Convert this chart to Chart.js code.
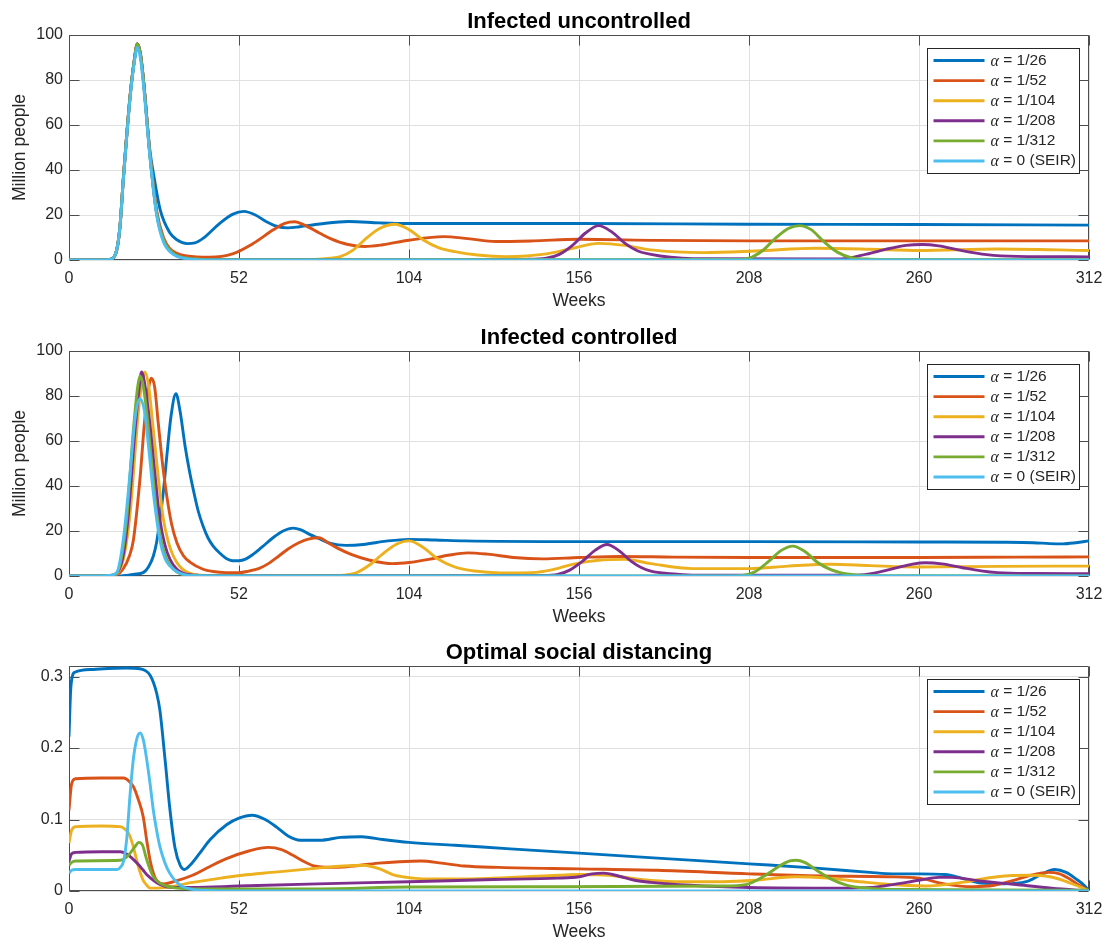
<!DOCTYPE html>
<html>
<head>
<meta charset="utf-8">
<title>Infected and optimal social distancing</title>
<script src="https://cdn.jsdelivr.net/npm/chart.js@4.4.1/dist/chart.umd.min.js"></script>
<style>
  html, body { margin: 0; padding: 0; background: #fff; }
  #fig { position: relative; width: 1113px; height: 945px; overflow: hidden; }
  #fig canvas { position: absolute; left: 0; }
</style>
</head>
<body>
<div id="fig">
  <canvas id="uncChart" width="1113" height="316" style="top:0px"></canvas>
  <canvas id="ctlChart" width="1113" height="316" style="top:316px"></canvas>
  <canvas id="sdChart" width="1113" height="316" style="top:631px"></canvas>
</div>
<script>
// Legend entries (alpha values) and axis ticks
const alphaLabels = ['1/26', '1/52', '1/104', '1/208', '1/312', '0 (SEIR)'];
const weekTicks = [0, 52, 104, 156, 208, 260, 312];
const peopleTicks = [0, 20, 40, 60, 80, 100];
const distTicks = [0, 0.1, 0.2, 0.3];

// MATLAB default line colors
const COLORS = ['#0072BD', '#D95319', '#EDB120', '#7E2F8E', '#77AC30', '#4DBEEE'];
const AXIS_COLOR = '#4d4d4d';
const TEXT_COLOR = '#262626';
const GRID_COLOR = '#e0e0e0';
const FONT = "'Liberation Sans', Arial, sans-serif";

// ---- Infected uncontrolled: [week, million people] ----
const uncA26 = [[0,0],[10,0],[12.5,0.3],[14.6,4.5],[15.6,15],[16.6,35.7],[18.7,73],[20,89],[20.9,96],[21.8,92],[22.7,81],[24.8,48],[25.8,38.7],[27.9,22.3],[30.9,12],[33,9],[36.2,7.3],[38.5,7.6],[41.1,9.7],[46.2,16.4],[50,20.3],[53.5,21.6],[57,20],[60.4,17],[63.5,15],[67,14.3],[70.5,14.8],[76.7,16],[85.5,17.1],[95,16.5],[104,16.2],[130,16.2],[156,16.2],[208,15.9],[260,15.8],[312,15.5]];
const uncA52 = [[0,0],[10,0],[12.5,0.3],[14.6,4.5],[15.6,15],[16.6,35.7],[18.7,73],[20,89],[20.9,96],[21.8,92],[22.7,81],[24.8,46.5],[26.8,22],[28.9,10],[30.9,5],[33,3],[36,1.8],[43,1.2],[50,2.7],[56.4,7.4],[62.5,13.4],[66,16.3],[69.1,17],[72,15.5],[76.7,11.9],[80,9.5],[85,7],[90.5,6],[96,6.8],[104,8.8],[114.5,10.4],[122,9.5],[130.5,8.2],[142,8.5],[156,9.2],[180,8.7],[208,8.5],[260,8.5],[312,8.5]];
const uncA104 = [[0,0],[10,0],[12.5,0.3],[14.6,4.5],[15.6,15],[16.6,35.7],[18.7,73],[20,89],[20.9,96],[21.8,92],[22.7,81],[24.8,46],[26.8,21],[28.9,9],[31.9,3],[35,1],[40,0.3],[60,0.1],[75,0.3],[80,0.8],[83,1.5],[87,4.5],[91,9.7],[95,14],[99.7,15.9],[104,13.5],[108.4,8.9],[113,5.5],[118,3.7],[125,2.2],[133.7,1.5],[140,1.8],[146,2.7],[154,5.2],[162,7.4],[170,6.5],[178,4.5],[194,3.3],[210,4],[228.5,5.2],[245,4.8],[260,4.2],[284,4.9],[312,4.2]];
const uncA208 = [[0,0],[10,0],[12.5,0.3],[14.6,4.5],[15.6,15],[16.6,35.7],[18.7,73],[20,89],[20.9,96],[21.8,92],[22.7,81],[24.8,46],[26.8,21],[28.9,9],[31.9,3],[35,1],[40,0.3],[100,0.1],[140,0.3],[146,0.8],[150,2.5],[154,6.5],[158,12],[162,15.3],[166,12.5],[170,7.5],[174,4],[178,2.5],[184,1.2],[190.6,0.6],[236,0.5],[244,2.6],[250,4.8],[256,6.5],[261,6.9],[266,6.3],[272,4.5],[280.7,2.4],[290,1.6],[312,1.4]];
const uncA312 = [[0,0],[10,0],[12.5,0.3],[14.6,4.5],[15.6,15],[16.6,35.7],[18.7,73],[20,89],[20.9,96],[21.8,92],[22.7,81],[24.8,46],[26.8,21],[28.9,9],[31.9,3],[35,1],[40,0.3],[60,0.1],[204,0.2],[208,0.8],[212,4],[216,9.5],[220,14],[223.5,15.3],[227,13.5],[231,8],[235,3.5],[239,1.2],[245,0.4],[260,0.2],[312,0.1]];
const uncSEIR = [[0,0],[10,0],[12.5,0.3],[14.6,4.5],[15.6,15],[16.6,35],[18.7,72],[20,88],[20.9,94.5],[21.8,90],[22.7,79],[24.8,45],[26.8,20],[28.9,8],[31.9,2.5],[35,0.8],[38,0.3],[45,0],[312,0]];

// ---- Infected controlled: [week, million people] ----
const ctlA26 = [[0,0],[15,0],[17.6,0.3],[20,0.8],[22.7,1.5],[24.3,4],[25.8,8.9],[26.8,15],[27.8,25],[28.9,38],[29.9,53],[31.2,71],[32.7,81],[34,73],[35.5,57.8],[36.8,47],[38,38.5],[39.5,29],[41,22.2],[42.5,17],[44.1,13.3],[46,10.3],[48.1,7.8],[50,6.8],[52,6.8],[54,7.5],[56.3,9.6],[59,12.8],[62.4,17],[65.5,20],[68.5,21.3],[71,20.5],[73.6,18.5],[76.4,16.7],[80,14.5],[84.7,13.6],[90,14],[97,15.5],[104,16.3],[112,16],[121,15.6],[156,15.3],[208,15.3],[260,15.1],[285,15],[295,14.8],[300,14.4],[304,14.3],[308,14.8],[312,15.6]];
const ctlA52 = [[0,0],[10,0],[14,0.3],[16.5,3],[18.5,9],[19.7,16],[21.7,43],[23.2,70],[24.4,84],[25.2,87.9],[26.2,84],[27.3,68],[28.6,50],[29.9,35.6],[31.4,23],[33,14.8],[35,9],[37,6.2],[41,3],[44,2],[48,1.5],[52,1.5],[55,2.2],[58,3.3],[61,5.5],[64.2,8.9],[67,12],[70.3,14.8],[73.5,16.5],[76.5,17],[79,15],[82,12.5],[86.3,9.6],[92,7],[99,5.5],[104,6],[110,7.4],[116,9.2],[122,10.3],[128,9.7],[136,8.2],[144.8,7.6],[156,8.2],[168.5,8.7],[185,8.4],[208,8.2],[260,8.2],[290,8.4],[312,8.5]];
const ctlA104 = [[0,0],[10,0],[13,0.3],[15,1.5],[17,10],[18.7,28],[21.2,72.6],[22.2,85],[23.2,90.7],[24.3,85],[25.8,65],[27.3,44],[28.9,25],[30.4,15],[31.9,8.9],[34,4],[36,1.8],[40,0.4],[50,0.1],[80,0.1],[84,0.4],[88,1.5],[92,5],[95.8,9.6],[100,14],[104,15.6],[108,13],[113,7.4],[118,4],[124,2.2],[132,1.4],[141.6,1.5],[148,2.8],[154,5.2],[162,7],[170,7.4],[178,5.5],[190.6,3.3],[208,3.3],[220,4.4],[233,5.2],[245,4.6],[260,4],[285,4.3],[312,4.4]];
const ctlA208 = [[0,0],[10,0],[13,0.3],[15,2],[16.7,10],[18.2,28],[20.2,65],[21.5,84],[22.2,90.7],[23.2,85],[24.8,66.7],[26.3,45],[27.8,25],[29.3,14],[30.9,7.4],[33,3],[35,1.2],[40,0.3],[60,0.1],[145,0.2],[149.5,0.7],[153,2.5],[157,6.5],[161,11.5],[164.6,14],[168,11.5],[172,6.5],[175,3.8],[178,2.2],[184,1],[190.6,0.4],[241,0.4],[247,1.5],[253,3.6],[258,5.3],[262,5.9],[267,5.4],[273,3.8],[279,2.3],[284,1.5],[295,1.1],[312,1]];
const ctlA312 = [[0,0],[10,0],[12.5,0.2],[14.6,1.2],[16,8],[17.6,25],[19.7,65],[21,84],[21.7,88.9],[22.5,86],[23.8,72.6],[25.3,50],[26.8,28],[28.3,15],[29.9,7.4],[32,3],[34,1],[38,0.2],[50,0],[200,0],[206,0.3],[210,2],[214,6.5],[218,11.5],[221.4,13.3],[225,11],[229,6],[233,2.8],[236.5,1.3],[244,0.3],[260,0.1],[312,0]];
const ctlSEIR = [[0,0],[10,0],[12.5,0.3],[14.6,1.5],[16.6,16],[18.7,46],[20.2,70],[21.7,78.8],[23,74],[23.8,65],[25.8,37],[27.8,16],[29.3,8],[30.9,4.4],[35,0.7],[40,0.1],[50,0],[312,0]];

// ---- Optimal social distancing: [week, control level] ----
const sdA26 = [[0,0.216],[0.5,0.28],[1,0.3],[1.8,0.306],[7.4,0.31],[17.6,0.312],[21.7,0.311],[23.5,0.308],[24.8,0.302],[25.8,0.292],[26.8,0.277],[27.8,0.253],[29.4,0.183],[30.9,0.113],[32.4,0.061],[34,0.036],[35.2,0.03],[37,0.036],[40,0.053],[43.2,0.072],[48.3,0.093],[52,0.102],[56,0.106],[60,0.1],[63.6,0.089],[67,0.077],[70.7,0.071],[76.8,0.071],[83,0.075],[89.5,0.076],[96,0.072],[104,0.068],[118,0.064],[135,0.059],[156,0.053],[180,0.046],[208,0.038],[228.5,0.032],[245,0.026],[252,0.024],[260,0.024],[268,0.023],[273,0.018],[279,0.011],[286,0.01],[292.8,0.013],[297,0.022],[301.5,0.03],[305,0.026],[308,0.017],[310.5,0.008],[312,0]];
const sdA52 = [[0,0.113],[0.8,0.15],[2,0.157],[10,0.158],[16.7,0.158],[18.5,0.153],[19.7,0.146],[21.2,0.128],[22.7,0.104],[23.8,0.07],[24.8,0.043],[25.8,0.025],[26.8,0.015],[28.9,0.01],[32,0.013],[37.8,0.022],[43,0.034],[48,0.045],[55,0.056],[61,0.061],[65,0.058],[68.5,0.05],[72,0.041],[75,0.035],[80,0.033],[85,0.034],[94.7,0.039],[101,0.041],[107.7,0.042],[114,0.039],[120.8,0.035],[131.7,0.033],[156,0.031],[180,0.029],[208,0.024],[230,0.021],[250,0.02],[260,0.018],[267.7,0.01],[276.5,0.006],[283,0.008],[289,0.015],[295,0.023],[299.5,0.026],[303,0.024],[306,0.017],[309,0.008],[312,0]];
const sdA104 = [[0,0.067],[0.8,0.085],[2,0.09],[10,0.091],[15.7,0.09],[17,0.087],[18.2,0.081],[19.5,0.065],[20.7,0.043],[21.7,0.027],[22.7,0.015],[23.8,0.008],[24.8,0.004],[27,0.004],[30,0.005],[37.8,0.012],[45,0.017],[53,0.022],[62,0.026],[76,0.032],[84,0.035],[90,0.036],[95,0.031],[99,0.023],[103.4,0.019],[108,0.017],[121,0.017],[135,0.019],[150,0.022],[156,0.023],[165,0.022],[175,0.016],[185,0.013],[200,0.013],[210,0.015],[222,0.02],[232,0.018],[244,0.012],[255,0.008],[262,0.007],[273,0.012],[284,0.02],[294,0.022],[300,0.02],[304,0.015],[308,0.008],[312,0]];
const sdA208 = [[0,0.042],[0.8,0.052],[2,0.054],[10,0.055],[15.7,0.055],[17.5,0.052],[19,0.047],[21,0.038],[22.7,0.029],[24,0.022],[25.8,0.015],[27.8,0.009],[29.8,0.006],[33,0.005],[37.8,0.005],[52,0.007],[76,0.01],[104,0.013],[130,0.016],[149.5,0.018],[156,0.02],[160,0.024],[163.6,0.025],[168,0.021],[173,0.015],[178,0.012],[190,0.008],[208,0.005],[236.5,0.004],[245.7,0.005],[252,0.009],[260,0.015],[266,0.019],[270,0.019],[278.6,0.014],[289.6,0.009],[300.6,0.004],[312,0]];
const sdA312 = [[0,0.036],[0.8,0.04],[2,0.042],[15.7,0.043],[17.5,0.047],[18.7,0.053],[20,0.061],[21.4,0.068],[22.5,0.064],[23.7,0.045],[24.8,0.03],[25.8,0.02],[27.8,0.011],[29.8,0.007],[33,0.004],[37.8,0.003],[76,0.003],[104,0.0055],[150,0.006],[200,0.007],[207,0.009],[212.7,0.021],[217,0.034],[220.5,0.042],[222.4,0.043],[225,0.04],[229,0.028],[233,0.017],[238,0.008],[244,0.004],[255,0.002],[312,0.001]];
const sdSEIR = [[0,0.025],[0.8,0.029],[2,0.03],[14.7,0.03],[15.7,0.033],[16.7,0.042],[17.7,0.075],[18.7,0.136],[19.7,0.185],[20.8,0.214],[21.8,0.221],[22.8,0.21],[23.8,0.183],[24.8,0.15],[25.8,0.113],[26.8,0.085],[27.8,0.062],[29.3,0.04],[30.8,0.025],[32.8,0.013],[34.8,0.006],[37,0.003],[40,0.001],[50,0],[312,0]];

// Draws the MATLAB-like box, inward ticks, title and legend
const framePlugin = {
    id: 'frame',
    beforeDatasetsDraw(chart) {
        const { ctx, chartArea: a, scales: { x, y } } = chart;
        const L = Math.round(a.left) + 0.5, R = Math.round(a.right) - 0.5;
        const T = Math.round(a.top) + 0.5, B = Math.round(a.bottom) - 0.5;
        ctx.save();
        ctx.strokeStyle = AXIS_COLOR;
        ctx.lineWidth = 1;
        ctx.beginPath();
        x.ticks.forEach(t => {
            const px = Math.round(x.getPixelForValue(t.value)) + 0.5;
            ctx.moveTo(px, B); ctx.lineTo(px, B - 10);
            ctx.moveTo(px, T); ctx.lineTo(px, T + 10);
        });
        y.ticks.forEach(t => {
            const py = Math.round(y.getPixelForValue(t.value)) + 0.5;
            ctx.moveTo(L, py); ctx.lineTo(L + 10, py);
            ctx.moveTo(R, py); ctx.lineTo(R - 10, py);
        });
        ctx.rect(L, T, R - L, B - T);
        ctx.stroke();
        ctx.restore();
    },
    afterDraw(chart, args, opts) {
        const { ctx, chartArea: a } = chart;
        ctx.save();
        // title
        ctx.fillStyle = '#000';
        ctx.font = 'bold 22px ' + FONT;
        ctx.textAlign = 'center';
        ctx.textBaseline = 'alphabetic';
        ctx.fillText(opts.title, (a.left + a.right) / 2, a.top - 7);

        // legend
        const bx = Math.round(a.right) - 161.5, by = Math.round(a.top) + 13.5;
        ctx.fillStyle = '#fff';
        ctx.fillRect(bx, by, 152, 125);
        ctx.strokeStyle = TEXT_COLOR;
        ctx.lineWidth = 1;
        ctx.strokeRect(bx, by, 152, 125);
        chart.data.datasets.forEach((ds, i) => {
            const iy = a.top + 25.5 + 20.1 * i;
            ctx.strokeStyle = ds.borderColor;
            ctx.lineWidth = ds.borderWidth;
            ctx.beginPath();
            ctx.moveTo(bx + 6, iy);
            ctx.lineTo(bx + 57, iy);
            ctx.stroke();
            ctx.fillStyle = TEXT_COLOR;
            ctx.textAlign = 'left';
            ctx.textBaseline = 'middle';
            ctx.font = 'italic 16px "Liberation Serif", "DejaVu Serif", serif';
            ctx.fillText('\u03B1', bx + 63, iy + 1);
            const w = ctx.measureText('\u03B1').width;
            ctx.font = '15.5px ' + FONT;
            ctx.fillText(' = ' + ds.label, bx + 63 + w, iy);
        });
        ctx.restore();
    }
};

function fixedTicks(values) {
    return scale => { scale.ticks = values.map(v => ({ value: v })); };
}

function makeChart(canvasId, title, series, yMax, yTicks, yTitle) {
    const ctx = document.getElementById(canvasId).getContext('2d');
    return new Chart(ctx, {
        type: 'line',
        data: {
            datasets: series.map((pts, i) => ({
                label: alphaLabels[i],
                data: pts.map(p => ({ x: p[0], y: p[1] })),
                borderColor: COLORS[i],
                borderWidth: 2.9,
                pointRadius: 0,
                cubicInterpolationMode: 'monotone',
                order: series.length - i
            }))
        },
        options: {
            responsive: false,
            animation: false,
            events: [],
            layout: { padding: { left: 0, right: 24, top: 35, bottom: 0 } },
            plugins: {
                legend: { display: false },
                title: { display: false },
                tooltip: { enabled: false },
                frame: { title: title }
            },
            scales: {
                x: {
                    type: 'linear',
                    min: 0,
                    max: 312,
                    afterBuildTicks: fixedTicks(weekTicks),
                    afterFit: s => { s.height = 56; },
                    grid: { color: GRID_COLOR, drawTicks: false },
                    border: { display: false },
                    ticks: { color: TEXT_COLOR, font: { size: 16, family: FONT }, padding: 9, maxRotation: 0 },
                    title: { display: true, text: 'Weeks', color: TEXT_COLOR, font: { size: 17.5, family: FONT }, padding: { top: 0, bottom: 4 } }
                },
                y: {
                    type: 'linear',
                    min: 0,
                    max: yMax,
                    afterBuildTicks: fixedTicks(yTicks),
                    afterFit: s => { s.width = 69; },
                    grid: { color: GRID_COLOR, drawTicks: false },
                    border: { display: false },
                    ticks: { color: TEXT_COLOR, font: { size: 16, family: FONT }, padding: 6 },
                    title: { display: !!yTitle, text: yTitle || '', color: TEXT_COLOR, font: { size: 17.5, family: FONT }, padding: { top: 10, bottom: 0 } }
                }
            }
        },
        plugins: [framePlugin]
    });
}

makeChart('uncChart', 'Infected uncontrolled',
    [uncA26, uncA52, uncA104, uncA208, uncA312, uncSEIR], 100, peopleTicks, 'Million people');
makeChart('ctlChart', 'Infected controlled',
    [ctlA26, ctlA52, ctlA104, ctlA208, ctlA312, ctlSEIR], 100, peopleTicks, 'Million people');
makeChart('sdChart', 'Optimal social distancing',
    [sdA26, sdA52, sdA104, sdA208, sdA312, sdSEIR], 0.3148, distTicks, '');
</script>
</body>
</html>
